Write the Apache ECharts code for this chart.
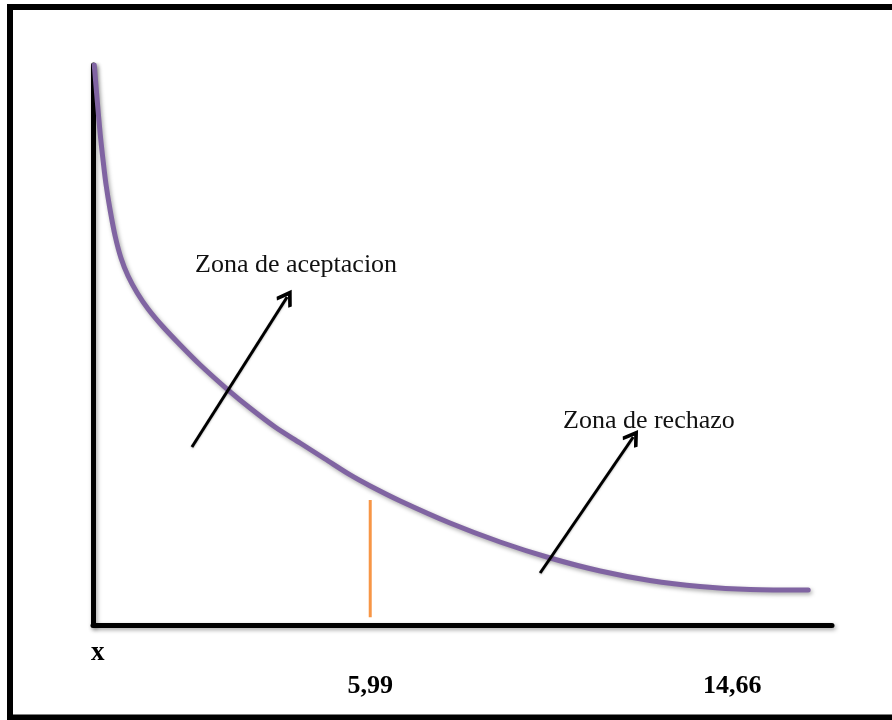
<!DOCTYPE html>
<html>
<head>
<meta charset="utf-8">
<script src="https://cdn.jsdelivr.net/npm/echarts@6/dist/echarts.min.js"></script>
<style>
html,body{margin:0;padding:0;background:#fff;}
#chart{width:892px;height:720px;}
</style>
</head>
<body>
<div id="chart"></div>
<script>
// ---- data (schematic units) ----
const curveX = [-0.62,-0.55,-0.48,-0.41,-0.34,-0.24,-0.12,0.02,0.19,0.41,0.67,1.01,1.44,1.92,2.56,3.11,3.71,4.31,4.91,5.51,5.99,6.71,7.90,9.10,10.30,11.50,12.69,13.89,15.09,16.48];
const curveY = [100,93.75,87.86,83.04,78.75,74.11,69.46,65.54,62.32,59.29,56.43,53.39,50.0,46.43,42.14,38.75,35.36,32.5,29.64,26.79,24.82,22.14,18.21,14.82,11.96,9.64,7.95,6.88,6.34,6.25];
const criticalValue = 5.99;
const criticalLineY = [1.4, 22.3];
const tickValues = [5.99, 14.66];
const tickLabels = ['5,99', '14,66'];
const axisName = 'x';
const zoneLabels = ['Zona de aceptacion', 'Zona de rechazo'];
const arrowTails = [[1.72, 31.79], [10.06, 9.29]];
const arrowHeads = [[4.00, 58.57], [12.29, 33.57]];

const curveData = curveX.map((x, i) => [x, curveY[i]]);
const shadow = {shadowColor: 'rgba(0,0,0,0.35)', shadowBlur: 4, shadowOffsetX: 1.5, shadowOffsetY: 2};
const chevron = 'path://M0,0 L7,8.5 L5.2,10.3 L0,4.2 L-5.2,10.3 L-7,8.5 Z';

const chart = echarts.init(document.getElementById('chart'), null, {renderer: 'canvas'});
chart.setOption({
  animation: false,
  backgroundColor: '#fff',
  grid: {left: 93, right: 60, top: 65, bottom: 95, containLabel: false},
  xAxis: {
    type: 'value', min: -0.65, max: 17.05,
    splitLine: {show: false},
    axisTick: {show: false},
    axisLine: {show: true, onZero: false, lineStyle: Object.assign({color: '#000', width: 5}, shadow)},
    axisLabel: {
      customValues: tickValues,
      formatter: v => tickLabels[tickValues.indexOf(v)],
      margin: 48,
      color: '#000',
      fontFamily: '"Liberation Serif", "Times New Roman", serif',
      fontWeight: 'bold',
      fontSize: 26
    }
  },
  yAxis: {
    type: 'value', min: 0, max: 100,
    splitLine: {show: false},
    axisTick: {show: false},
    axisLabel: {show: false},
    axisLine: {show: true, onZero: false, lineStyle: Object.assign({color: '#000', width: 5}, shadow)}
  },
  series: [
    {
      type: 'line',
      data: curveData,
      smooth: 0.3,
      showSymbol: false,
      symbol: 'none',
      z: 3,
      lineStyle: Object.assign({color: '#8064A2', width: 5, cap: 'round', join: 'round'}, shadow)
    },
    {
      type: 'line',
      data: [[criticalValue, criticalLineY[0]], [criticalValue, criticalLineY[1]]],
      symbol: 'none',
      z: 2,
      lineStyle: {color: '#F79646', width: 3},
      markLine: {
        silent: true,
        animation: false,
        symbol: ['none', chevron],
        symbolSize: [18, 17],
        label: {show: false},
        emphasis: {disabled: true},
        itemStyle: {color: '#000'},
        lineStyle: {color: '#000', width: 3, type: 'solid', shadowColor: 'rgba(0,0,0,0.25)', shadowBlur: 2, shadowOffsetY: 1},
        data: arrowTails.map((t, i) => [{coord: t}, {coord: arrowHeads[i]}])
      }
    }
  ],
  graphic: [
    {type: 'rect', silent: true, z: 100, shape: {x: 10, y: 7, width: 900, height: 710.5},
     style: {fill: 'none', stroke: '#000', lineWidth: 6}},
    {type: 'text', left: 195, top: 252, silent: true,
     style: {text: zoneLabels[0], fill: '#111', font: '26px "Liberation Serif", "Times New Roman", serif'}},
    {type: 'text', left: 563, top: 408, silent: true,
     style: {text: zoneLabels[1], fill: '#111', font: '26px "Liberation Serif", "Times New Roman", serif'}},
    {type: 'text', left: 91, top: 640, silent: true,
     style: {text: axisName, fill: '#000', font: 'bold 27px "Liberation Serif", "Times New Roman", serif'}}
  ]
});
</script>
</body>
</html>
